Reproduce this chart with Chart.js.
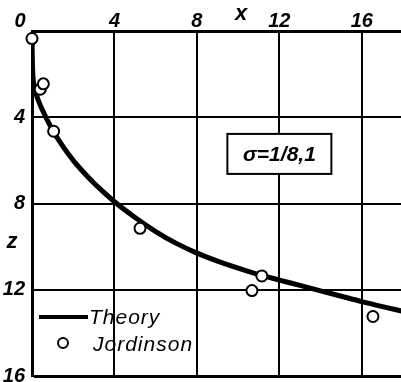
<!DOCTYPE html>
<html>
<head>
<meta charset="utf-8">
<script src="https://cdn.jsdelivr.net/npm/chart.js@4/dist/chart.umd.min.js"></script>
<style>
  html, body { margin: 0; padding: 0; background: #fff; overflow: hidden; }
  #wrap { position: relative; width: 401px; height: 382px; }
</style>
</head>
<body>
<div id="wrap"><canvas id="c"></canvas></div>
<script>
// Theoretical profile z(x)
const theoryX = [0, 0.01, 0.03, 0.07, 0.15, 0.3, 0.5, 0.75, 1, 1.5, 2, 2.5, 3, 3.5, 4, 5, 6, 7, 8, 9, 10, 11, 12, 13, 14, 15, 16, 17, 18];
const theoryZ = [0, 1.0, 1.8, 2.35, 2.75, 3.2, 3.65, 4.15, 4.6, 5.35, 6.0, 6.55, 7.05, 7.5, 7.92, 8.65, 9.3, 9.85, 10.3, 10.67, 11.0, 11.3, 11.55, 11.8, 12.05, 12.3, 12.55, 12.78, 13.0];
// Jordinson's measurements
const jordinsonX = [0, 0.4, 0.55, 1.05, 5.24, 10.67, 11.15, 16.54];
const jordinsonZ = [0.35, 2.7, 2.45, 4.65, 9.15, 12.04, 11.36, 13.24];
// Axis ticks
const xTicks = [0, 4, 8, 12, 16];
const zTicks = [0, 4, 8, 12, 16];
const xName = 'x';
const zName = 'z';
const sigmaLabel = 'σ=1/8,1';
const seriesNames = ['Theory', 'Jordinson'];

const FONT = "'Liberation Sans', sans-serif";
const tickFont = { family: FONT, size: 20, style: 'italic', weight: 'bold' };

const toPoints = (xs, ys) => xs.map((x, i) => ({ x, y: ys[i] }));

// scales keep their fixed band sizes and no extra label padding
const fixBand = prop => size => s => {
  s[prop] = size;
  s.paddingTop = 0; s.paddingBottom = 0; s.paddingLeft = 0; s.paddingRight = 0;
};

const annotations = {
  id: 'annotations',
  afterDraw(chart) {
    const { ctx, chartArea } = chart;
    const xs = chart.scales.x, ys = chart.scales.y;
    ctx.save();
    ctx.fillStyle = '#000';
    ctx.textAlign = 'center';
    ctx.textBaseline = 'middle';
    ctx.font = `italic bold 20px ${FONT}`;
    // shared origin label
    ctx.fillText('0', xs.getPixelForValue(0) - 12, ys.getPixelForValue(0) - 10);
    // axis names
    ctx.font = `italic bold 22px ${FONT}`;
    ctx.fillText(xName, xs.getPixelForValue(10.15), chartArea.top - 17);
    ctx.fillText(zName, xs.getPixelForValue(0) - 20, ys.getPixelForValue(9.8));

    // parameter box
    const bx = xs.getPixelForValue(12);
    const by = ys.getPixelForValue(5.7);
    const bw = 104, bh = 40;
    ctx.fillStyle = '#fff';
    ctx.fillRect(bx - bw / 2, by - bh / 2, bw, bh);
    ctx.strokeStyle = '#000';
    ctx.lineWidth = 2;
    ctx.strokeRect(bx - bw / 2, by - bh / 2, bw, bh);
    ctx.fillStyle = '#000';
    ctx.font = `italic bold 21px ${FONT}`;
    ctx.fillText(sigmaLabel, bx, by + 1);

    // legend
    const ds = chart.data.datasets;
    ctx.textAlign = 'left';
    ctx.textBaseline = 'alphabetic';
    ctx.font = `italic 21px ${FONT}`;
    ctx.letterSpacing = '1px';
    ctx.strokeStyle = '#000';
    ctx.lineWidth = 4;
    ctx.beginPath();
    ctx.moveTo(39, 317);
    ctx.lineTo(88, 317);
    ctx.stroke();
    ctx.fillText(ds[1].label, 89, 324);
    ctx.lineWidth = 2;
    ctx.beginPath();
    ctx.arc(63, 343, 5, 0, Math.PI * 2);
    ctx.fillStyle = '#fff';
    ctx.fill();
    ctx.stroke();
    ctx.fillStyle = '#000';
    ctx.fillText(ds[0].label, 93, 351);
    ctx.restore();
  }
};

new Chart(document.getElementById('c'), {
  type: 'scatter',
  data: {
    datasets: [
      {
        label: seriesNames[1],
        data: toPoints(jordinsonX, jordinsonZ),
        pointRadius: 5.5,
        pointBorderWidth: 2,
        pointBackgroundColor: '#fff',
        pointBorderColor: '#000',
        showLine: false,
        clip: false,
        order: 1
      },
      {
        label: seriesNames[0],
        data: toPoints(theoryX, theoryZ),
        showLine: true,
        borderColor: '#000',
        borderWidth: 5,
        pointRadius: 0,
        cubicInterpolationMode: 'monotone',
        order: 2
      }
    ]
  },
  options: {
    responsive: true,
    maintainAspectRatio: false,
    animation: false,
    devicePixelRatio: 1,
    layout: { padding: { left: 0, top: 0, right: 0, bottom: 6 }, autoPadding: false },
    plugins: { legend: { display: false }, tooltip: { enabled: false } },
    scales: {
      x: {
        type: 'linear',
        position: 'top',
        min: 0,
        max: 17.9,
        afterFit: fixBand('height')(31),
        afterBuildTicks: s => { s.ticks = xTicks.map(v => ({ value: v })); },
        ticks: {
          includeBounds: false,
          color: '#000',
          font: tickFont,
          padding: -2,
          maxRotation: 0,
          callback: v => (v === 0 ? '' : String(v))
        },
        grid: { color: '#000', lineWidth: 2, drawTicks: false },
        border: { color: '#000', width: 3 }
      },
      y: {
        type: 'linear',
        reverse: true,
        min: 0,
        max: 16,
        afterFit: fixBand('width')(32),
        afterBuildTicks: s => { s.ticks = zTicks.map(v => ({ value: v })); },
        ticks: {
          color: '#000',
          font: tickFont,
          padding: 7,
          callback: v => (v === 0 ? '' : String(v))
        },
        grid: {
          color: '#000',
          lineWidth: c => (c.tick && c.tick.value === 16 ? 3 : 2),
          drawTicks: false
        },
        border: { color: '#000', width: 3 }
      }
    }
  },
  plugins: [annotations]
});
</script>
</body>
</html>
